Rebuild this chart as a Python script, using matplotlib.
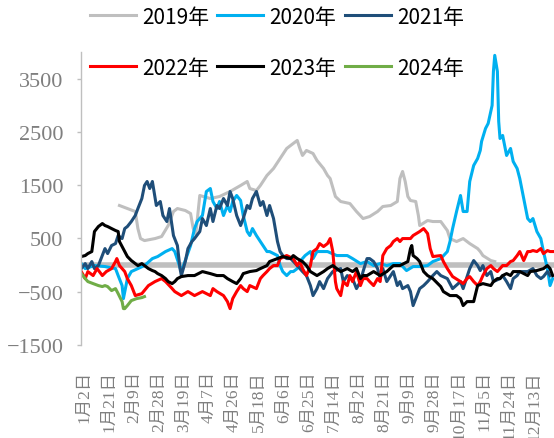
import matplotlib
matplotlib.use("Agg")
import matplotlib.pyplot as plt

# x = day index from Jan 2 (category axis, daily), y = value
tick_days = [0, 19, 38, 57, 76, 95, 114, 133, 152, 171, 190, 209, 228, 247, 266, 285, 304, 323, 342]
tick_labels = ["1月2日", "1月21日", "2月9日", "2月28日", "3月19日", "4月7日", "4月26日",
               "5月18日", "6月6日", "6月25日", "7月14日", "8月2日", "8月21日", "9月9日",
               "9月28日", "10月17日", "11月5日", "11月24日", "12月13日"]

x2019 = [27, 39, 41, 43, 46, 54, 59, 64, 68, 71, 77, 81, 83, 85, 88, 96, 103, 111, 119, 124,
         126, 131, 134, 139, 144, 149, 154, 157, 162, 164, 166, 169, 174, 177, 182, 185, 187,
         191, 195, 202, 207, 212, 217, 223, 227, 233, 238, 240, 242, 244, 246, 248, 252, 254,
         255, 261, 265, 271, 276, 278, 283, 288, 293, 299, 301, 303, 309, 312]
y2019 = [1119, 1006, 686, 498, 460, 498, 536, 743, 1006, 1062, 1025, 968, 686, 590, 1307, 1250,
         1288, 1382, 1495, 1570, 1438, 1400, 1495, 1683, 1814, 2002, 2190, 2247, 2341, 2190,
         2059, 2153, 2096, 1965, 1814, 1683, 1626, 1288, 1194, 1156, 1006, 874, 912, 1006, 1100,
         1119, 1194, 1626, 1758, 1570, 1288, 1213, 1194, 931, 743, 837, 818, 818, 649, 498, 442,
         498, 404, 310, 254, 179, 85, 66]

x2020 = [-2, 1, 8, 16, 24, 26, 29, 30, 33, 36, 41, 46, 52, 56, 62, 67, 69, 74, 81, 84, 86, 90,
         93, 96, 98, 101, 103, 106, 109, 111, 113, 116, 119, 121, 124, 126, 128, 131, 134, 136,
         139, 141, 147, 149, 151, 154, 157, 159, 162, 164, 168, 172, 174, 177, 182, 185, 192,
         200, 204, 210, 215, 220, 225, 230, 235, 240, 245, 250, 255, 261, 265, 271, 276, 278,
         280, 283, 286, 288, 291, 293, 296, 299, 301, 302, 305, 307, 310, 311, 312, 314, 315,
         316, 318, 321, 324, 326, 329, 331, 334, 337, 339, 341, 344, 347, 349, 352, 354, 356]
y2020 = [28, -66, -9, -28, -66, -197, -385, -630, -254, -122, -66, -9, 122, 160, 254, 310, 254,
         -122, 367, 686, 818, 931, 1382, 1438, 1194, 1062, 1194, 931, 1119, 1006, 1194, 1307,
         1213, 931, 630, 555, 686, 555, 442, 367, 254, 254, 179, -9, -122, -197, -122, -122,
         -66, 66, 179, 254, 122, 254, 254, 254, 179, 179, 122, 28, 66, -9, 28, -9, 28, 28, -103,
         -28, -28, -9, 66, 122, 254, 442, 686, 1006, 1307, 1006, 1006, 1570, 1871, 2002, 2153,
         2322, 2566, 2660, 2999, 3638, 3939, 3638, 2698, 2378, 2435, 2059, 2190, 1946, 1814,
         1626, 1250, 874, 818, 874, 630, 498, 254, -66, -385, -254]

x2021 = [-2, 1, 3, 6, 8, 11, 14, 16, 18, 21, 24, 26, 29, 31, 33, 36, 39, 41, 44, 46, 48, 50,
         52, 55, 58, 60, 63, 65, 68, 71, 73, 74, 77, 79, 82, 84, 88, 90, 93, 96, 98, 101, 103,
         106, 109, 111, 113, 116, 119, 121, 124, 126, 128, 131, 134, 136, 139, 141, 144, 147,
         149, 151, 154, 157, 162, 166, 169, 172, 174, 177, 179, 182, 185, 189, 195, 197, 200,
         204, 207, 210, 212, 215, 217, 220, 223, 225, 227, 230, 233, 235, 238, 240, 242, 246,
         248, 250, 253, 255, 258, 261, 265, 268, 271, 276, 280, 286, 288, 293, 296, 299, 301,
         303, 306, 309, 311, 316, 318, 321, 324, 326, 329, 331, 337, 341, 344, 347, 349, 352, 354]
y2021 = [-66, 28, -66, 66, -66, -9, 179, 310, 216, 367, 404, 555, 498, 686, 724, 818, 931, 1062,
         1250, 1495, 1570, 1438, 1570, 1119, 1194, 931, 818, 1062, 555, 367, -66, -197, 66, 310,
         442, 498, 630, 874, 743, 1062, 818, 1119, 1062, 1250, 1119, 1382, 1250, 931, 743, 874,
         1119, 1062, 1250, 1382, 1119, 1194, 931, 1119, 874, 442, 254, 179, 122, 122, -9, -122,
         -197, -385, -573, -442, -310, -442, -254, -122, -66, -310, -197, -254, -442, -310,
         -122, 122, 122, 66, -66, -254, -66, -310, -197, -122, -385, -310, -442, -385, -498,
         -761, -573, -442, -385, -310, -197, -122, -197, -254, -442, -310, -442, -66, 85, -9,
         -103, -9, -197, -122, -310, -254, -197, -310, -442, -254, -197, -122, -122, -66, -197,
         -254, -216, -122, -197]

x2022 = [-2, 1, 3, 7, 10, 14, 17, 21, 24, 25, 27, 31, 33, 36, 39, 44, 49, 54, 59, 62, 67, 69,
         74, 79, 84, 90, 96, 98, 101, 106, 109, 111, 113, 116, 119, 121, 124, 126, 131, 134,
         136, 139, 141, 144, 147, 149, 154, 159, 162, 164, 166, 169, 172, 174, 177, 179, 182,
         185, 187, 189, 191, 192, 195, 197, 200, 202, 204, 207, 210, 212, 215, 217, 220, 223,
         225, 227, 230, 233, 235, 238, 240, 242, 246, 248, 250, 255, 258, 261, 263, 265, 271,
         273, 276, 280, 286, 288, 291, 293, 296, 299, 301, 303, 306, 309, 311, 314, 316, 318,
         321, 324, 326, 329, 331, 334, 337, 339, 341, 344, 347, 349, 352, 354, 356]
y2022 = [-122, -254, -122, -197, -66, -197, -122, -66, 66, 122, -9, -122, -254, -385, -573,
         -536, -385, -310, -254, -310, -442, -498, -573, -498, -573, -498, -573, -442, -498,
         -573, -686, -818, -630, -498, -385, -442, -498, -385, -442, -254, -197, -122, -66, -9,
         -9, 122, 179, 122, -9, 66, -66, -197, -9, 254, 310, 404, 348, 404, 498, 254, -310,
         -442, -573, -310, -385, -197, -310, -122, -385, -254, -254, -310, -385, -254, -310,
         179, 310, 367, 442, 498, 442, 498, 498, 498, 555, 630, 686, 592, 310, 160, 179, 66,
         -66, -216, -310, -348, -254, -216, -310, -385, -310, -197, -66, -9, -66, -122, -66,
         -9, -9, 66, 85, 179, 254, 85, 254, 254, 273, 254, 310, 216, 273, 254, 254]

x2023 = [-2, 1, 3, 6, 7, 8, 11, 14, 16, 18, 21, 24, 26, 27, 29, 31, 33, 36, 39, 41, 44, 46, 49,
         52, 54, 56, 59, 62, 64, 67, 69, 71, 74, 79, 84, 90, 96, 101, 106, 109, 113, 116, 119,
         121, 126, 131, 134, 139, 141, 147, 151, 157, 159, 162, 166, 169, 172, 177, 182, 185,
         189, 195, 200, 204, 207, 210, 212, 215, 220, 225, 230, 235, 240, 246, 248, 249, 250,
         253, 255, 258, 261, 265, 271, 273, 278, 283, 286, 288, 291, 296, 299, 303, 309, 311,
         314, 316, 318, 321, 324, 326, 331, 337, 339, 344, 349, 352, 354, 356]
y2023 = [160, 179, 216, 254, 442, 630, 724, 780, 743, 724, 686, 649, 630, 442, 348, 254, 160, 85,
         28, -9, 28, -9, -66, -103, -122, -160, -197, -254, -310, -348, -310, -254, -216, -197,
         -197, -122, -160, -197, -197, -254, -310, -348, -254, -160, -122, -103, -66, -9, 66,
         122, 160, 122, 179, 122, 66, -9, -122, -197, -122, -66, -9, -122, -66, -122, -66, -254,
         -197, -197, -122, -197, -122, -9, -9, 66, 310, 367, 179, 122, 66, -122, -197, -254,
         -404, -498, -573, -573, -630, -761, -686, -686, -385, -348, -385, -310, -254, -254,
         -197, -160, -197, -122, -122, -197, -122, -103, -66, -9, -66, -197]

x2024 = [-2, 1, 3, 7, 11, 14, 16, 18, 21, 24, 26, 29, 30, 31, 33, 36, 40, 44, 46]
y2024 = [-160, -254, -310, -348, -385, -404, -385, -404, -479, -442, -536, -686, -818, -818,
         -761, -667, -630, -611, -592]

series = [
    ("2019年", x2019, y2019, "#bfbfbf"),
    ("2020年", x2020, y2020, "#00b0f0"),
    ("2021年", x2021, y2021, "#1f4e79"),
    ("2022年", x2022, y2022, "#ff0000"),
    ("2023年", x2023, y2023, "#000000"),
    ("2024年", x2024, y2024, "#70ad47"),
]

fig = plt.figure(figsize=(5.54, 4.39), dpi=100)
ax = fig.add_axes([0.146, 0.212, 0.854, 0.667])

# horizontal category axis crossing at zero
ax.axhline(0, color="#bfbfbf", lw=4, zorder=1)

lines = []
for name, xs, ys, col in series:
    ln, = ax.plot(xs, ys, color=col, lw=2.2, label=name, zorder=2)
    lines.append(ln)

ax.set_xlim(-2.3, 357)
ax.set_ylim(-1500, 4000)
ax.set_yticks([-1500, -500, 500, 1500, 2500, 3500])
ax.set_xticks(tick_days)
ax.set_xticklabels(tick_labels, rotation=90, color="#7f7f7f", fontsize=12.5,
                   family=["Liberation Serif", "Noto Sans CJK SC"])

for lab in ax.get_yticklabels():
    lab.set_family("Liberation Serif")
ax.tick_params(axis="y", direction="out", length=3, width=1, color="#bfbfbf",
               labelsize=16, labelcolor="#7f7f7f", pad=9.5)
ax.tick_params(axis="x", length=0, pad=18)

for side in ["top", "right", "bottom"]:
    ax.spines[side].set_visible(False)
ax.spines["left"].set_color("#bfbfbf")
ax.spines["left"].set_linewidth(1)

# legend fills column-wise; reorder so rows read 2019-2021 / 2022-2024
order = [0, 3, 1, 4, 2, 5]
fig.legend([lines[i] for i in order], [series[i][0] for i in order],
           loc="upper left", bbox_to_anchor=(0.162, 0.985), ncol=3, frameon=False,
           prop={"family": ["Noto Sans CJK SC", "DejaVu Sans"], "size": 15},
           handlelength=2.2, handletextpad=0.3, columnspacing=0.4, labelspacing=1.4,
           borderpad=0, borderaxespad=0)

fig.savefig("out.png", dpi=100)
